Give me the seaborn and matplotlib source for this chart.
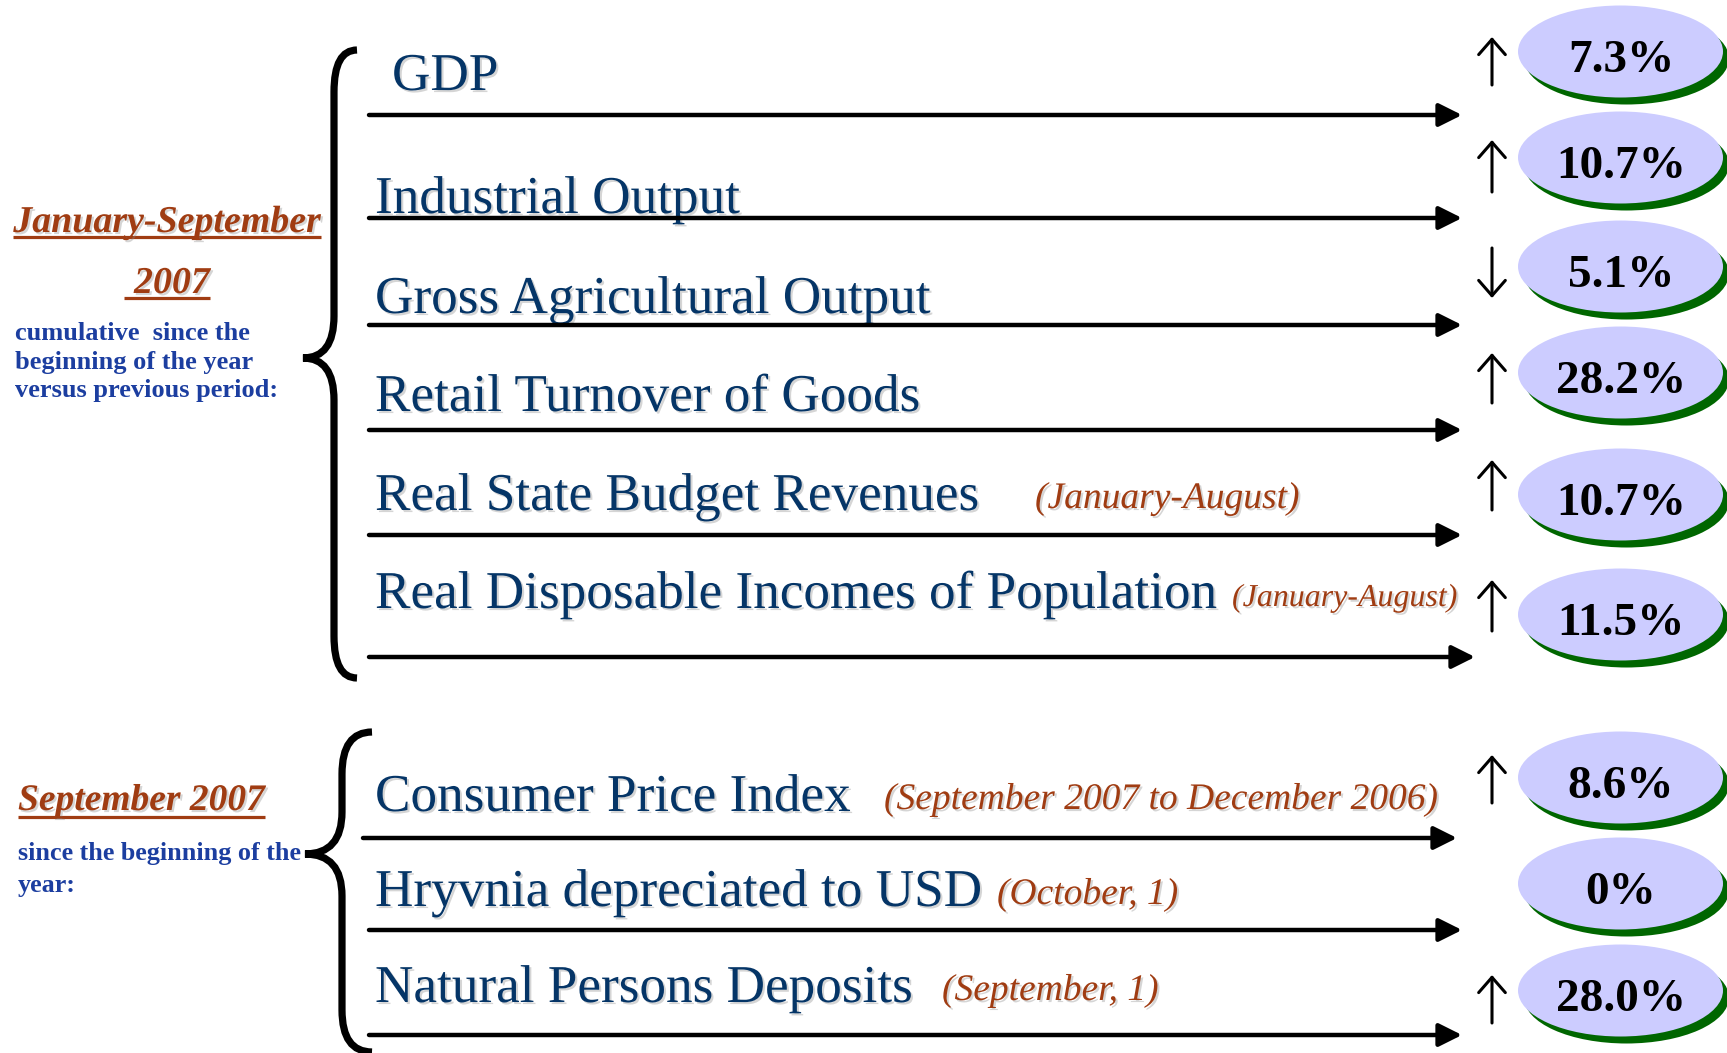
import numpy as np
import pandas as pd
import matplotlib
matplotlib.use("Agg")
import matplotlib.pyplot as plt
import matplotlib.patheffects as pe
from matplotlib.path import Path
from matplotlib.patches import PathPatch
from matplotlib.markers import MarkerStyle
import seaborn as sns

# ---------------- data ----------------
indicators = ["GDP", "Industrial Output", "Gross Agricultural Output",
              "Retail Turnover of Goods", "Real State Budget Revenues",
              "Real Disposable Incomes of Population", "Consumer Price Index",
              "Hryvnia depreciated to USD", "Natural Persons Deposits"]
notes = ["", "", "", "", "(January-August)", "(January-August)",
         "(September 2007 to December 2006)", "(October, 1)", "(September, 1)"]
values = [7.3, 10.7, 5.1, 28.2, 10.7, 11.5, 8.6, 0.0, 28.0]
value_labels = ["7.3%", "10.7%", "5.1%", "28.2%", "10.7%", "11.5%", "8.6%", "0%", "28.0%"]
directions = ["up", "up", "down", "up", "up", "up", "up", None, "up"]
group_titles = ["January-September", "September 2007"]
group_year = "2007"
group1_lines = ["cumulative  since the", "beginning of the year", "versus previous period:"]
group2_lines = ["since the beginning of the", "year:"]

# ---------------- layout (pixel coordinates) ----------------
W, H = 1727, 1053
label_x = [392, 375, 375, 375, 375, 375, 375, 375, 375]
label_base = [90, 213, 313, 411, 510, 608, 811, 906, 1002]
note_x = [0, 0, 0, 0, 1035, 1232, 884, 997, 942]
note_size = [0, 0, 0, 0, 27, 23, 27, 27, 27]
line_y = [115, 218, 325, 430, 535, 657, 838, 930, 1035]
line_x0 = [369, 369, 369, 369, 369, 369, 363, 369, 369]
line_x1 = [1462, 1462, 1462, 1462, 1462, 1475, 1457, 1462, 1462]
oval_y = [51, 157, 266, 372, 494, 614, 777, 883, 990]
arrow_span = [(37, 85), (140, 192), (248, 298), (353, 403), (460, 510),
              (580, 631), (755, 803), None, (975, 1023)]
OVAL_X, OVAL_W, OVAL_H = 1620, 205, 92
ARROW_X = 1492

NAVY = "#053567"
BROWN = "#A03C12"
BLUE = "#1C3EA0"

sns.set_theme(style="white")
plt.rcParams["font.family"] = ["Liberation Serif", "DejaVu Serif"]

fig = plt.figure(figsize=(W / 100, H / 100), dpi=100)
ax = fig.add_axes([0, 0, 1, 1])

shadow = [pe.withSimplePatchShadow(offset=(1.5, -1.5), shadow_rgbFace="#888888", alpha=0.35)]

# ---------------- ovals via seaborn scatter with elliptic marker ----------------
circ = Path.unit_circle()
ell_path = Path(circ.vertices * np.array([1.0, OVAL_H / OVAL_W]), circ.codes)
ell_marker = MarkerStyle(ell_path)
size_pt = OVAL_W * 72 / 100
df = pd.DataFrame({"x": [OVAL_X] * len(values), "y": oval_y, "value": values})
sns.scatterplot(data=df.assign(x=df.x + 6, y=df.y + 7), x="x", y="y", marker=ell_marker,
                s=size_pt ** 2, color="#006600", linewidth=0, ax=ax, zorder=2, legend=False)
sns.scatterplot(data=df, x="x", y="y", marker=ell_marker,
                s=size_pt ** 2, color="#CCCCFF", linewidth=0, ax=ax, zorder=3, legend=False)

for i, lab in enumerate(value_labels):
    ax.text(OVAL_X + 1, oval_y[i] + 21, lab, ha="center", va="baseline",
            fontsize=34, fontweight="bold", color="black", zorder=4)

# ---------------- indicator labels, notes, arrows ----------------
for i, name in enumerate(indicators):
    ax.text(label_x[i], label_base[i], name, ha="left", va="baseline",
            fontsize=38.3, color=NAVY, path_effects=shadow, zorder=4)
    if notes[i]:
        ax.text(note_x[i], label_base[i] - 2, notes[i], ha="left", va="baseline",
                fontsize=note_size[i], style="italic", color=BROWN,
                path_effects=shadow, zorder=4)
    ax.annotate("", xy=(line_x1[i], line_y[i]), xytext=(line_x0[i], line_y[i]),
                arrowprops=dict(arrowstyle="-|>,head_length=0.5,head_width=0.25",
                                lw=3.2, color="black", mutation_scale=28,
                                shrinkA=0, shrinkB=0), zorder=4)
    if directions[i] is not None:
        top, bot = arrow_span[i]
        if directions[i] == "up":
            tip, tail = top, bot
        else:
            tip, tail = bot, top
        ax.annotate("", xy=(ARROW_X, tip), xytext=(ARROW_X, tail),
                    arrowprops=dict(arrowstyle="->,head_length=0.55,head_width=0.48",
                                    lw=2.2, color="black", mutation_scale=20,
                                    shrinkA=0, shrinkB=0), zorder=4)

# ---------------- braces ----------------
def brace(xe, xv, xt, yt, ym, yb, r):
    verts = [(xe, yt), (xv, yt), (xv, yt + r), (xv, ym - r), (xv, ym), (xt, ym),
             (xv, ym), (xv, ym + r), (xv, yb - r), (xv, yb), (xe, yb)]
    codes = [Path.MOVETO, Path.CURVE3, Path.CURVE3, Path.LINETO, Path.CURVE3, Path.CURVE3,
             Path.CURVE3, Path.CURVE3, Path.LINETO, Path.CURVE3, Path.CURVE3]
    ax.add_patch(PathPatch(Path(verts, codes), fill=False, lw=5.2, color="black",
                           capstyle="butt", zorder=4))

brace(357, 334, 303, 50, 358, 678, 42)
brace(372, 342, 305, 732, 854, 1052, 42)

# ---------------- left group descriptions ----------------
t1 = ax.text(167, 232, group_titles[0], ha="center", va="baseline", fontsize=27.3,
             fontweight="bold", style="italic", color=BROWN, path_effects=shadow)
t2 = ax.text(172, 293, group_year, ha="center", va="baseline", fontsize=27.3,
             fontweight="bold", style="italic", color=BROWN, path_effects=shadow)
t3 = ax.text(18, 810, group_titles[1], ha="left", va="baseline", fontsize=27,
             fontweight="bold", style="italic", color=BROWN, path_effects=shadow)
for txt, yb in zip(group1_lines, [340, 368.5, 397]):
    ax.text(15, yb, txt, ha="left", va="baseline", fontsize=19,
            fontweight="bold", color=BLUE)
for txt, yb in zip(group2_lines, [860, 892]):
    ax.text(18, yb, txt, ha="left", va="baseline", fontsize=18.8,
            fontweight="bold", color=BLUE)

ax.set_xlim(0, W)
ax.set_ylim(H, 0)
ax.axis("off")

# underlines under the brown headings
fig.canvas.draw()
inv = ax.transData.inverted()
for t, yline, extra_left in [(t1, 237, 0), (t2, 298, 10), (t3, 817, 0)]:
    bb = t.get_window_extent()
    (xa, _), (xb, _) = inv.transform([(bb.x0, bb.y0), (bb.x1, bb.y0)])
    ax.plot([xa - extra_left, xb], [yline, yline], color=BROWN, lw=2.3,
            solid_capstyle="butt", path_effects=shadow)

fig.savefig("out.png", dpi=100, facecolor="white")
